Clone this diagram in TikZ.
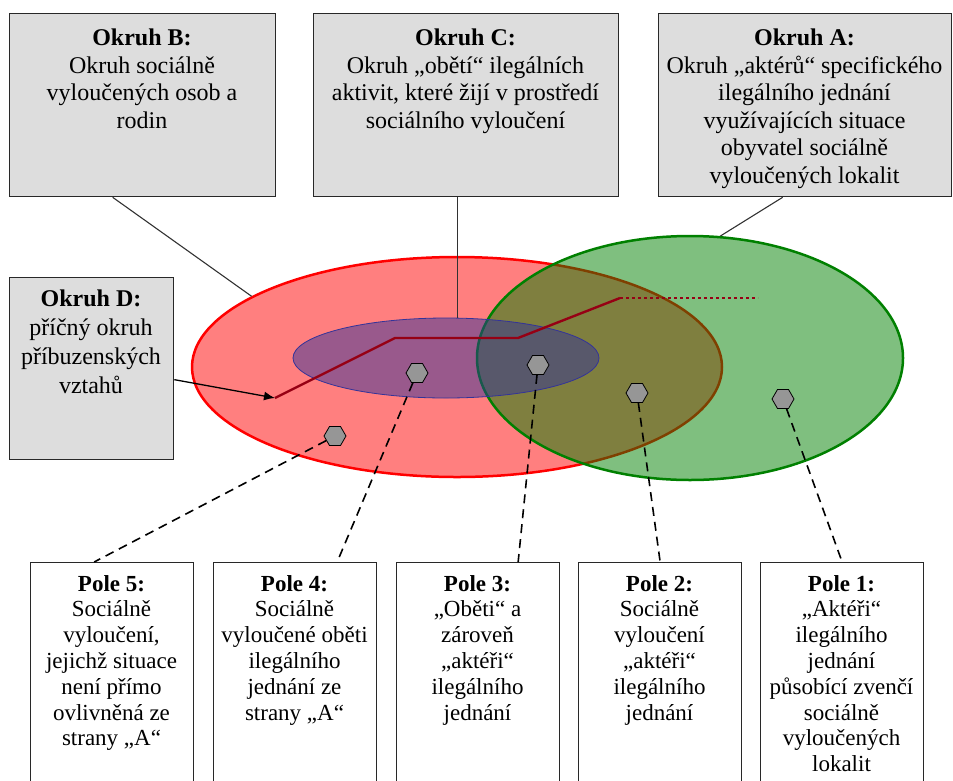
\documentclass[tikz,border=0pt]{standalone}
\usepackage{fontspec}
\setmainfont{Liberation Serif}
\usetikzlibrary{shapes.geometric,arrows.meta}
\definecolor{boxgray}{RGB}{221,221,221}
\definecolor{edgegray}{RGB}{40,40,40}
\definecolor{leadgray}{RGB}{50,50,50}
\definecolor{hexgray}{RGB}{150,150,150}
\definecolor{okgreen}{RGB}{0,128,0}
\definecolor{okblue}{RGB}{51,51,153}
\definecolor{pathred}{RGB}{150,0,20}
\begin{document}
\begin{tikzpicture}[x=1pt,y=-1pt,
  topbox/.style={draw=edgegray, fill=boxgray, line width=1.3pt, anchor=north west, inner sep=0},
  polebox/.style={draw=edgegray, fill=white, line width=1.3pt, anchor=north west, inner sep=0, minimum width=163pt, minimum height=240pt},
  toptext/.style={anchor=north, align=center, inner sep=0, font=\fontsize{24}{27.5}\selectfont},
  dtext/.style={anchor=north, align=center, inner sep=0, font=\fontsize{24}{29}\selectfont},
  poletext/.style={anchor=north, align=center, inner sep=0, font=\fontsize{23}{25.8}\selectfont},
  hexa/.style={regular polygon, regular polygon sides=6, minimum size=22pt, inner sep=0, fill=hexgray, draw=black, line width=0.8pt},
  leader/.style={draw=leadgray, line width=1.1pt},
  dashlead/.style={draw=black, line width=1.6pt, dash pattern=on 9pt off 6pt},
  zone/.style={ellipse, inner sep=0, fill opacity=0.5, draw opacity=1, line width=2.5pt},
]
\useasboundingbox (0,0) rectangle (953,780);
\clip (0,0) rectangle (953,780);

% zones
\node[zone, fill=red, draw=red, minimum width=530pt, minimum height=220pt] (red) at (457,367) {};
\node[zone, fill=okgreen, draw=okgreen, minimum width=426pt, minimum height=244pt] (green) at (690,358) {};
\node[zone, fill=okblue, draw=okblue, line width=0.8pt, minimum width=306pt, minimum height=80pt] (blue) at (446,358) {};

% top boxes
\node[topbox, minimum width=266pt, minimum height=183pt] (B) at (9,13) {};
\node[toptext] (Bt) at (142,29) {\textbf{Okruh B:}\\Okruh sociálně\\vyloučených osob a\\rodin};
\node[topbox, minimum width=305pt, minimum height=183pt] (C) at (313,13) {};
\node[toptext] (Ct) at (465.5,29) {\textbf{Okruh C:}\\Okruh „obětí“ ilegálních\\aktivit, které žijí v prostředí\\sociálního vyloučení};
\node[topbox, minimum width=293pt, minimum height=183pt] (A) at (658,13) {};
\node[toptext] (At) at (804.5,29) {\textbf{Okruh A:}\\Okruh „aktérů“ specifického\\ilegálního jednání\\využívajících situace\\obyvatel sociálně\\vyloučených lokalit};
\node[topbox, minimum width=164pt, minimum height=182pt] (D) at (9,277) {};
\node[dtext] (Dt) at (91,290) {\textbf{Okruh D:}\\příčný okruh\\příbuzenských\\vztahů};

% bottom boxes
\node[polebox] (P5) at (30,562) {};
\node[poletext] (P5t) at (111.5,575) {\textbf{Pole 5:}\\Sociálně\\vyloučení,\\jejichž situace\\není přímo\\ovlivněná ze\\strany „A“};
\node[polebox] (P4) at (213,562) {};
\node[poletext] (P4t) at (294.5,575) {\textbf{Pole 4:}\\Sociálně\\vyloučené oběti\\ilegálního\\jednání ze\\strany „A“};
\node[polebox] (P3) at (396,562) {};
\node[poletext] (P3t) at (477.5,575) {\textbf{Pole 3:}\\„Oběti“ a\\zároveň\\„aktéři“\\ilegálního\\jednání};
\node[polebox] (P2) at (578,562) {};
\node[poletext] (P2t) at (659.5,575) {\textbf{Pole 2:}\\Sociálně\\vyloučení\\„aktéři“\\ilegálního\\jednání};
\node[polebox] (P1) at (760,562) {};
\node[poletext] (P1t) at (841.5,575) {\textbf{Pole 1:}\\„Aktéři“\\ilegálního\\jednání\\působící zvenčí\\sociálně\\vyloučených\\lokalit};

% leaders from top boxes
\draw[leader] ([xshift=-30pt]B.south) -- (red.161);
\draw[leader] ([xshift=-8.5pt]C.south) -- ([xshift=-8.5pt]C.south |- blue.north);
\draw[leader] ([xshift=-22.5pt]A.south) -- (green.76);

% kinship path
\coordinate (p0) at (275,398);
\coordinate (p1) at (395,338);
\coordinate (p2) at (518,338);
\coordinate (p3) at (620,298);
\coordinate (p4) at (758,298);
\draw[pathred, line width=2.4pt, line join=round] (p0) -- (p1) -- (p2) -- (p3);
\draw[pathred, line width=2pt, dash pattern=on 3pt off 3pt] (p3) -- (p4);
\draw[black, line width=1.3pt, -{Latex[length=11pt,width=9pt]}] ([yshift=-11pt]D.east) -- (p0);

% field markers
\node[hexa] (h5) at (335,436) {};
\node[hexa] (h4) at (417,373) {};
\node[hexa] (h3) at (538,365) {};
\node[hexa] (h2) at (637,393) {};
\node[hexa] (h1) at (783,399) {};

\draw[dashlead] (h5) -- ([xshift=-18pt]P5.north);
\draw[dashlead] (h4) -- ([xshift=42pt]P4.north);
\draw[dashlead] (h3) -- ([xshift=40pt]P3.north);
\draw[dashlead] (h2) -- (P2.north);
\draw[dashlead] (h1) -- (P1.north);
\end{tikzpicture}
\end{document}
